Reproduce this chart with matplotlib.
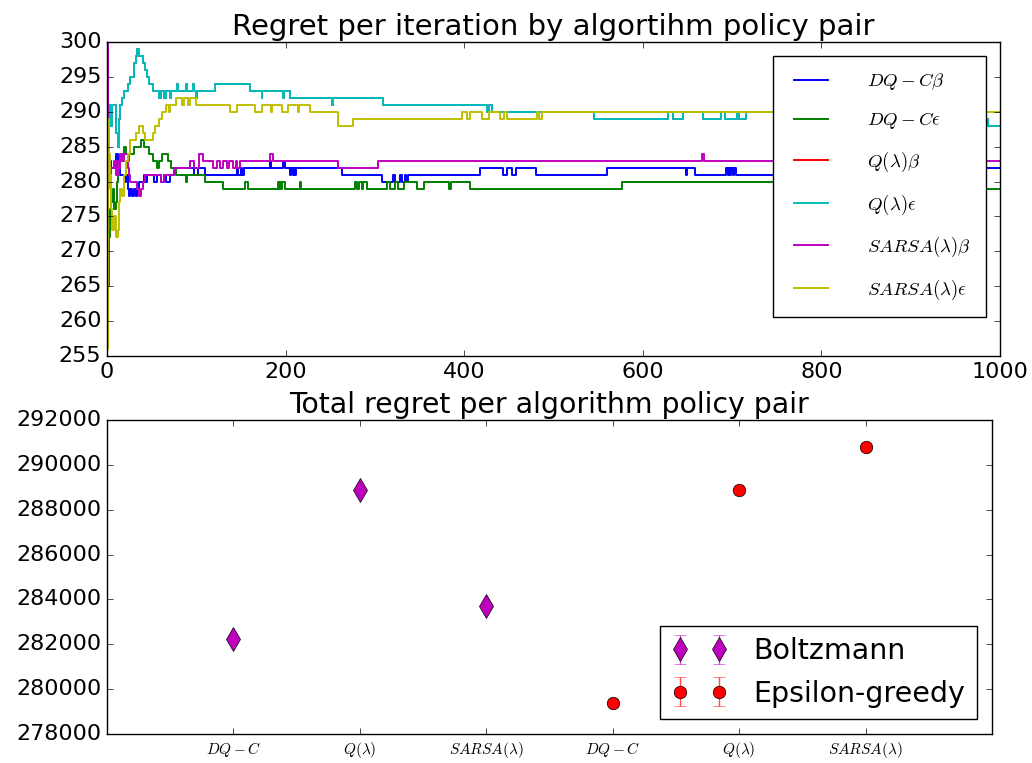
import matplotlib
matplotlib.use('Agg')
import matplotlib.pyplot as plt

plt.style.use('classic')

# Running regret per iteration, stored as (iteration, value) change points
dqc_beta = [(0, 283), (4, 282), (10, 284), (12, 283), (13, 282), (15, 281), (19, 280), (21, 281),
            (23, 279), (25, 278), (26, 279), (28, 278), (30, 279), (32, 278), (34, 279), (36, 280),
            (41, 281), (43, 280), (45, 281), (53, 280), (56, 281), (60, 280), (64, 281), (66, 280),
            (71, 281), (75, 282), (97, 281), (102, 282), (110, 281), (145, 282), (147, 281),
            (150, 282), (151, 281), (153, 282), (182, 283), (184, 282), (197, 283), (199, 282),
            (205, 281), (206, 282), (208, 281), (209, 282), (211, 281), (212, 282), (263, 281),
            (308, 280), (320, 281), (322, 280), (328, 281), (330, 280), (334, 281), (335, 280),
            (337, 281), (418, 282), (443, 281), (448, 282), (454, 281), (458, 282), (480, 281),
            (560, 282), (648, 281), (650, 282), (659, 281), (693, 282), (695, 281), (696, 282),
            (698, 281), (699, 282), (701, 281), (702, 282), (704, 281), (950, 282)]

dqc_eps = [(0, 265), (2, 272), (3, 276), (4, 274), (5, 278), (6, 277), (7, 279), (8, 276),
           (10, 277), (11, 280), (12, 281), (13, 282), (15, 283), (17, 284), (19, 285), (21, 284),
           (23, 283), (25, 284), (30, 285), (38, 286), (41, 285), (47, 284), (51, 283), (56, 282),
           (58, 283), (62, 284), (68, 283), (72, 282), (77, 281), (88, 280), (90, 281), (110, 280),
           (130, 279), (154, 280), (158, 279), (192, 280), (193, 279), (194, 280), (195, 279),
           (196, 280), (199, 279), (216, 280), (217, 279), (278, 280), (280, 279), (282, 280),
           (285, 279), (287, 280), (291, 279), (313, 280), (317, 279), (323, 280), (326, 279),
           (333, 280), (347, 279), (355, 280), (383, 279), (385, 280), (407, 279), (577, 280),
           (900, 279)]

q_eps = [(0, 283), (2, 288), (3, 291), (4, 288), (6, 291), (10, 287), (12, 285), (13, 289),
         (15, 291), (17, 292), (19, 293), (23, 294), (26, 295), (30, 297), (32, 298), (34, 299),
         (36, 298), (40, 297), (43, 296), (45, 295), (47, 294), (51, 293), (58, 292), (60, 293),
         (64, 292), (66, 293), (70, 292), (72, 293), (78, 294), (80, 293), (88, 294), (90, 293),
         (96, 294), (97, 293), (100, 292), (101, 293), (121, 294), (160, 293), (173, 292),
         (174, 293), (197, 292), (198, 293), (205, 292), (252, 291), (253, 292), (309, 291),
         (425, 290), (428, 291), (431, 290), (545, 289), (628, 290), (634, 289), (645, 290),
         (667, 289), (687, 290), (692, 289), (705, 290), (708, 289), (716, 290), (900, 289),
         (987, 288)]

# Q(lambda) with Boltzmann gives the same run as with epsilon-greedy
q_beta = list(q_eps)

sarsa_beta = [(0, 300), (1, 289), (2, 283), (3, 280), (4, 282), (8, 283), (10, 281), (12, 283),
              (13, 282), (15, 284), (17, 283), (19, 284), (23, 282), (25, 281), (26, 280),
              (34, 279), (36, 278), (38, 279), (40, 280), (43, 281), (60, 280), (64, 281),
              (75, 282), (93, 283), (97, 282), (103, 284), (107, 283), (119, 282), (123, 283),
              (126, 282), (130, 283), (134, 282), (137, 283), (141, 282), (144, 283), (146, 282),
              (149, 283), (183, 284), (186, 283), (259, 282), (304, 283), (666, 284), (668, 283)]

sarsa_eps = [(0, 256), (1, 289), (2, 284), (3, 279), (4, 281), (5, 276), (6, 273), (8, 275),
             (10, 272), (12, 273), (13, 277), (15, 279), (17, 278), (19, 281), (21, 283),
             (23, 284), (26, 286), (32, 287), (36, 288), (40, 287), (43, 286), (51, 287),
             (54, 288), (58, 289), (62, 290), (66, 291), (69, 290), (71, 291), (77, 292),
             (84, 291), (86, 292), (91, 291), (93, 292), (100, 291), (138, 290), (145, 291),
             (166, 290), (173, 291), (184, 290), (185, 291), (196, 290), (203, 291), (214, 290),
             (215, 291), (227, 290), (259, 288), (276, 289), (397, 290), (403, 289), (406, 290),
             (420, 289), (428, 290), (440, 289), (444, 290), (448, 289), (481, 290), (484, 289),
             (487, 290)]

n_iter = 1000

series = [(dqc_beta, 'b', r'$DQ-C\beta$'),
          (dqc_eps, 'g', r'$DQ-C\epsilon$'),
          (q_beta, 'r', r'$Q(\lambda)\beta$'),
          (q_eps, 'c', r'$Q(\lambda)\epsilon$'),
          (sarsa_beta, 'm', r'$SARSA(\lambda)\beta$'),
          (sarsa_eps, 'y', r'$SARSA(\lambda)\epsilon$')]

# Total regret per algorithm / policy
algorithms = [r'$DQ-C$', r'$Q(\lambda)$', r'$SARSA(\lambda)$']
total_boltzmann = [282230, 288900, 283700]
total_egreedy = [279400, 288900, 290800]
err_boltzmann = [0, 0, 0]
err_egreedy = [0, 0, 0]

fig = plt.figure(figsize=(10.32, 7.63), dpi=100, facecolor='w')

# Top: regret per iteration
ax1 = fig.add_axes([0.1037, 0.5334, 0.8653, 0.4116])
for pts, color, label in series:
    xs = [p[0] for p in pts] + [n_iter]
    ys = [p[1] for p in pts] + [pts[-1][1]]
    ax1.plot(xs, ys, color=color, lw=1.4, drawstyle='steps-post', label=label)
ax1.set_xlim(0, 1000)
ax1.set_ylim(255, 300)
ax1.set_yticks(range(255, 301, 5))
ax1.set_xticks(range(0, 1001, 200))
ax1.tick_params(labelsize=16)
ax1.set_title('Regret per iteration by algortihm policy pair', fontsize=21)
ax1.legend(loc='upper right', bbox_to_anchor=(0.984, 0.955), borderaxespad=0,
           prop={'size': 13.5}, handlelength=2.4, handletextpad=1.8,
           labelspacing=0.98, borderpad=0.8)

# Bottom: total regret
ax2 = fig.add_axes([0.1037, 0.038, 0.8575, 0.4115])
x_b = [1, 2, 3]
x_e = [4, 5, 6]
ax2.errorbar(x_b, total_boltzmann, yerr=err_boltzmann, fmt='md', ms=12, mew=0.5,
             ecolor=(0.75, 0, 0.75, 0.7), capsize=4, label='Boltzmann')
ax2.errorbar(x_e, total_egreedy, yerr=err_egreedy, fmt='ro', ms=9, mew=0.5,
             ecolor=(1, 0, 0, 0.7), capsize=4, label='Epsilon-greedy')
ax2.set_xlim(0, 7)
ax2.set_ylim(278000, 292000)
ax2.set_yticks(range(278000, 292001, 2000))
ax2.set_xticks(x_b + x_e)
ax2.set_xticklabels(algorithms + algorithms, fontsize=11)
ax2.ticklabel_format(axis='y', style='plain', useOffset=False)
ax2.tick_params(axis='y', labelsize=16)
ax2.set_title('Total regret per algorithm policy pair', fontsize=20.4)
ax2.legend(loc='lower right', numpoints=2, prop={'size': 20.5},
           bbox_to_anchor=(0.983, 0.048), borderaxespad=0, handletextpad=0.9)

fig.savefig('out.png', dpi=100, facecolor='w')
